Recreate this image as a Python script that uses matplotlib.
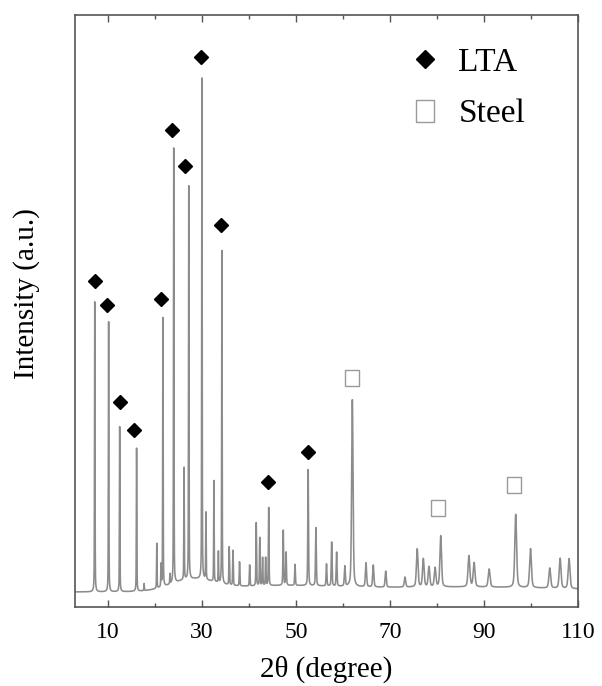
import numpy as np
import matplotlib
matplotlib.use("Agg")
import matplotlib.pyplot as plt

# ---- data (2θ in degrees, intensity in a.u.) ----
peak_pos = [7.2, 10.15, 12.5, 16.1, 17.7, 20.4, 21.3, 21.7, 23.2, 24.0,
            26.2, 27.2, 30.0, 30.85, 32.55, 33.5, 34.25, 35.8, 36.6, 38.0,
            40.15, 41.55, 42.3, 42.9, 43.55, 44.2, 47.3, 47.9, 49.8, 52.6,
            54.25, 56.5, 57.6, 58.65, 60.4, 62.0, 64.9, 66.45, 69.1, 73.2,
            75.8, 77.1, 78.3, 79.6, 80.8, 86.8, 87.9, 91.1, 96.75, 99.9,
            104.0, 106.2, 108.1]
peak_amp = [290, 270, 165, 143, 7, 45, 22, 269, 10, 435,
            112, 393, 501, 67, 101, 31, 333, 38, 35, 24,
            21, 63, 48, 28, 28, 78, 55, 33, 21, 116,
            58, 22, 44, 34, 20, 187, 24, 22, 16, 10,
            38, 28, 20, 19, 51, 31, 24, 18, 73, 39,
            20, 30, 30]
peak_fwhm = [0.12, 0.12, 0.12, 0.12, 0.12, 0.12, 0.12, 0.12, 0.12, 0.12,
             0.12, 0.12, 0.12, 0.12, 0.12, 0.12, 0.12, 0.15, 0.15, 0.15,
             0.15, 0.15, 0.15, 0.15, 0.15, 0.15, 0.18, 0.18, 0.18, 0.18,
             0.2, 0.2, 0.2, 0.2, 0.25, 0.35, 0.3, 0.3, 0.3, 0.35,
             0.4, 0.4, 0.4, 0.4, 0.4, 0.45, 0.45, 0.45, 0.45, 0.45,
             0.45, 0.45, 0.45]

# broad amorphous background humps
bg_center = [28.0, 45.0, 85.0]
bg_height = [11.0, 5.0, 5.0]
bg_sigma = [4.5, 12.0, 25.0]

# phase markers
lta_x = [7.2, 9.9, 12.5, 15.6, 21.3, 23.6, 26.4, 29.7, 34.0, 44.1, 52.5]
lta_y = [311, 287, 190, 162, 293, 462, 426, 535, 367, 110, 140]
steel_x = [62.0, 80.3, 96.4]
steel_y = [214, 84, 107]

xtick_major = [10, 30, 50, 70, 90, 110]
xtick_minor = [20, 40, 60, 80, 100]

# ---- build the diffractogram from the peak list ----
two_theta = np.arange(3.0, 110.0001, 0.01)
intensity = np.zeros_like(two_theta)
for c, h, s in zip(bg_center, bg_height, bg_sigma):
    intensity += h * np.exp(-0.5 * ((two_theta - c) / s) ** 2)
for p, a, w in zip(peak_pos, peak_amp, peak_fwhm):
    u = (two_theta - p) / w
    intensity += a * (0.6 * np.exp(-4 * np.log(2) * u ** 2) + 0.4 / (1 + 4 * u ** 2))

plt.rcParams['font.family'] = ['Liberation Serif', 'DejaVu Serif']

fig = plt.figure(figsize=(6.02, 6.86), dpi=100)
ax = fig.add_axes([0.1246, 0.1152, 0.8355, 0.8630])

ax.plot(two_theta, intensity, color='#8c8c8c', lw=1.15)

square = [(-0.4, -0.5), (0.4, -0.5), (0.4, 0.5), (-0.4, 0.5), (-0.4, -0.5)]
ax.plot(lta_x, lta_y, linestyle='none', marker='D', markersize=7.2,
        color='black', label='LTA')
ax.plot(steel_x, steel_y, linestyle='none', marker=square, markersize=12,
        markerfacecolor='white', markeredgecolor='#9a9a9a', markeredgewidth=1.0,
        label='Steel')

ax.set_xlim(3, 110)
ax.set_ylim(-15, 577)
ax.set_xticks(xtick_major)
ax.set_xticks(xtick_minor, minor=True)
ax.set_yticks([])

for sp in ax.spines.values():
    sp.set_color('#555555')
    sp.set_linewidth(1.2)

ax.tick_params(axis='x', which='both', direction='in', top=True, bottom=True,
               colors='#555555', labelcolor='black', labelsize=17, pad=11)
ax.tick_params(axis='x', which='major', length=5, width=1.0)
ax.tick_params(axis='x', which='minor', length=3, width=1.0)

ax.set_xlabel('2θ (degree)', fontsize=21, labelpad=9)
ax.set_ylabel('Intensity (a.u.)', fontsize=21)
ax.yaxis.set_label_coords(-0.07, 0.529)

ax.legend(loc='upper left', bbox_to_anchor=(0.663, 0.945), frameon=False,
          fontsize=24, handlelength=1.0, handletextpad=0.5, labelspacing=0.62,
          markerscale=1.3, borderpad=0, borderaxespad=0)

fig.savefig('out.png', dpi=100)
